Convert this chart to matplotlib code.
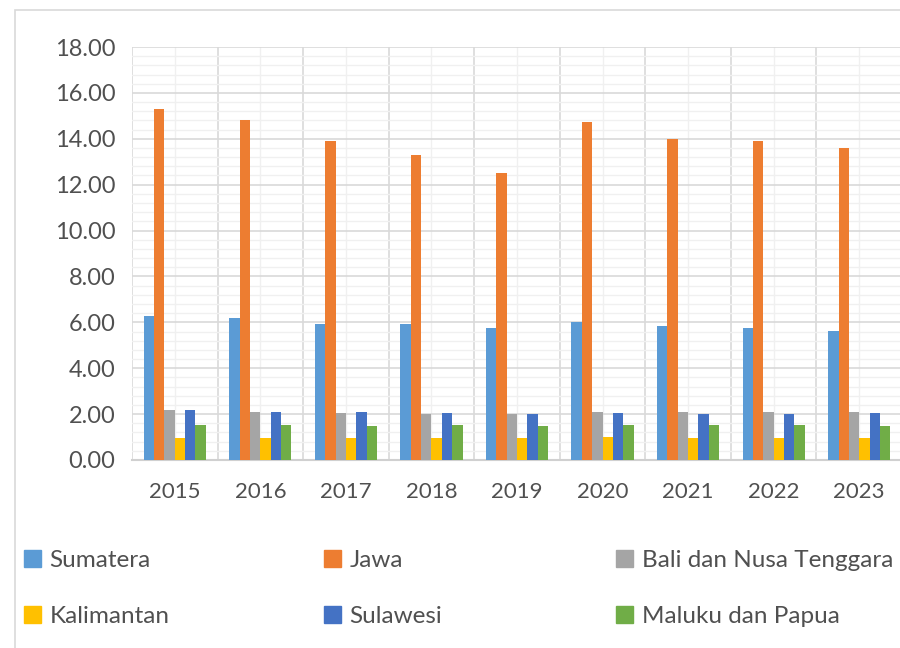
import numpy as np
import matplotlib.pyplot as plt
from matplotlib.patches import Rectangle, Patch
from matplotlib.ticker import MultipleLocator, FixedLocator, FuncFormatter

plt.rcParams['font.family'] = ['Lato', 'DejaVu Sans']

years = ['2015', '2016', '2017', '2018', '2019', '2020', '2021', '2022', '2023']
sumatera = [6.29, 6.20, 5.94, 5.94, 5.74, 6.02, 5.83, 5.74, 5.64]
jawa = [15.29, 14.81, 13.91, 13.28, 12.51, 14.73, 13.99, 13.91, 13.59]
bali = [2.18, 2.08, 2.05, 2.02, 1.99, 2.08, 2.08, 2.08, 2.08]
kalimantan = [0.97, 0.97, 0.97, 0.97, 0.94, 1.02, 0.97, 0.97, 0.97]
sulawesi = [2.18, 2.08, 2.08, 2.05, 1.99, 2.05, 1.99, 2.02, 2.03]
maluku = [1.53, 1.53, 1.50, 1.53, 1.50, 1.53, 1.53, 1.53, 1.50]

names = ['Sumatera', 'Jawa', 'Bali dan Nusa Tenggara',
         'Kalimantan', 'Sulawesi', 'Maluku dan Papua']
series = [sumatera, jawa, bali, kalimantan, sulawesi, maluku]
colors = ['#5B9BD5', '#ED7D31', '#A5A5A5', '#FFC000', '#4472C4', '#70AD47']
txt_col = '#505050'

fig = plt.figure(figsize=(9, 6.48), dpi=100)
# outer chart frame (cropped on the right)
fig.patches.append(Rectangle((15 / 900, -0.1), 1.2, 1.1 - 10 / 648,
                             transform=fig.transFigure, fill=False,
                             edgecolor='#D9D9D9', linewidth=1.2))

ax = fig.add_axes([132 / 900, 188 / 648, 770 / 900, 413 / 648])
x = np.arange(len(years))
w = 0.121
for i, (vals, c) in enumerate(zip(series, colors)):
    ax.bar(x + (i - 2.5) * w, vals, width=w, color=c, zorder=3)

ax.set_xlim(-0.5, len(years) - 0.5)
ax.set_ylim(0, 18)
ax.yaxis.set_major_locator(MultipleLocator(2))
ax.yaxis.set_minor_locator(MultipleLocator(0.4))
ax.yaxis.set_major_formatter(FuncFormatter(lambda v, p: f'{v:.2f}'))
ax.xaxis.set_major_locator(FixedLocator(x))
ax.xaxis.set_minor_locator(FixedLocator(np.arange(-0.5, len(years), 1)))
ax.set_xticklabels(years)

ax.grid(which='major', axis='y', color='#D9D9D9', linewidth=1.2, zorder=0)
ax.grid(which='minor', axis='y', color='#F0F0F0', linewidth=1.0, zorder=0)
ax.grid(which='minor', axis='x', color='#D9D9D9', linewidth=1.2, zorder=0)
ax.grid(which='major', axis='x', color='#F0F0F0', linewidth=1.0, zorder=0)
ax.set_axisbelow(True)

for s in ['top', 'right', 'left']:
    ax.spines[s].set_visible(False)
ax.spines['bottom'].set_color('#D0D0D0')
ax.spines['bottom'].set_linewidth(1.5)
ax.tick_params(which='both', length=0, colors=txt_col)
ax.tick_params(axis='y', labelsize=17, pad=12)
ax.tick_params(axis='x', labelsize=16, pad=16)

# legend: three columns, two rows, filled row by row
col_x = [24, 324, 616]
for j in range(3):
    idx = [j, j + 3]
    fig.legend([Patch(color=colors[i]) for i in idx], [names[i] for i in idx],
               loc='upper left', bbox_to_anchor=(col_x[j] / 900, 1 - 550 / 648),
               frameon=False, fontsize=17.5, labelcolor=txt_col,
               handlelength=0.7, handleheight=0.7, handletextpad=0.35,
               labelspacing=1.45, borderpad=0, borderaxespad=0)

fig.savefig('out.png', dpi=100)
